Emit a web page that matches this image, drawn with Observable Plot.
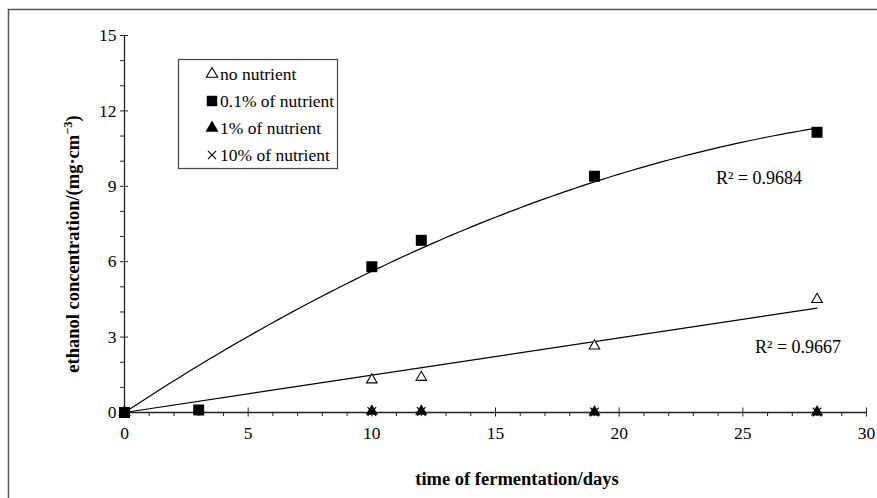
<!DOCTYPE html>
<html>
<head>
<meta charset="utf-8">
<script src="https://cdn.jsdelivr.net/npm/d3@7"></script>
<script src="https://cdn.jsdelivr.net/npm/@observablehq/plot@0.6"></script>
<style>
  html, body { margin: 0; padding: 0; background: white; overflow: hidden; }
  #chart { position: relative; width: 877px; height: 498px; overflow: hidden; }
</style>
</head>
<body>
<div id="chart"></div>
<script>
// ---- data ----
const daysNoNutrient = [0, 10, 12, 19, 28];
const valuesNoNutrient = [0, 1.3, 1.4, 2.65, 4.5];

const days01 = [0, 3, 10, 12, 19, 28];
const values01 = [0, 0.1, 5.8, 6.85, 9.4, 11.15];

const days1 = [0, 10, 12, 19, 28];
const values1 = [0, 0.05, 0.05, 0.02, 0.02];

const days10 = [0, 10, 12, 19, 28];
const values10 = [0, 0.04, 0.04, 0.02, 0.02];

const seriesNames = ["no nutrient", "0.1% of nutrient", "1% of nutrient", "10% of nutrient"];
const r2Labels = ["R\u00B2 = 0.9684", "R\u00B2 = 0.9667"];

const xMajor = [0, 5, 10, 15, 20, 25, 30];
const xMinor = d3.range(0, 31).filter(d => d % 5 !== 0);
const yMajor = [0, 3, 6, 9, 12, 15];
const yMinor = d3.range(0, 16).filter(d => d % 3 !== 0);

const xTitle = "time of fermentation/days";

// ---- build tables ----
const toRows = (xs, ys) => xs.map((x, i) => ({x, y: ys[i]}));
const rowsNo = toRows(daysNoNutrient, valuesNoNutrient);
const rows01 = toRows(days01, values01);
const rows1 = toRows(days1, values1);
const rows10 = toRows(days10, values10);

// Trendlines (least squares, intercept fixed at 0)
const aLin = d3.sum(rowsNo, d => d.x * d.y) / d3.sum(rowsNo, d => d.x * d.x);
const s2 = d3.sum(rows01, d => d.x ** 2), s3 = d3.sum(rows01, d => d.x ** 3), s4 = d3.sum(rows01, d => d.x ** 4);
const sxy = d3.sum(rows01, d => d.x * d.y), sx2y = d3.sum(rows01, d => d.x * d.x * d.y);
const det = s2 * s4 - s3 * s3;
const aQ = (sxy * s4 - s3 * sx2y) / det;
const bQ = (s2 * sx2y - s3 * sxy) / det;
const xMax = d3.max(days01);
const samples = d3.range(0, xMax + 0.001, 0.25);
const fitQuad = samples.map(x => ({x, y: aQ * x + bQ * x * x}));
const fitLin = [0, xMax].map(x => ({x, y: aLin * x}));

const font = "'Liberation Serif', 'Times New Roman', Times, serif";
const ink = "#000";

const chart = Plot.plot({
  width: 877,
  height: 498,
  marginLeft: 124,
  marginRight: 11,
  marginTop: 35,
  marginBottom: 86,
  x: {domain: [0, 30]},
  y: {domain: [0, 15]},
  style: {fontFamily: font, fontSize: "17px", background: "white", color: ink},
  marks: [
    // axes
    Plot.axisX(xMinor, {tickSize: 4, tickFormat: () => "", label: null, stroke: "#222"}),
    Plot.axisX(xMajor, {tickSize: 9, dy: -4.5, tickFormat: () => "", label: null, stroke: "#222"}),
    Plot.axisX(xMajor, {tickSize: 0, tickPadding: 14, label: null, fontSize: 17.5}),
    Plot.axisY(yMinor, {tickSize: 4, tickFormat: () => "", label: null, stroke: "#222"}),
    Plot.axisY(yMajor, {tickSize: 8, dx: 4, tickFormat: () => "", label: null, stroke: "#222"}),
    Plot.axisY(yMajor, {tickSize: 0, tickPadding: 8, label: null, fontSize: 17.5}),
    Plot.ruleY([0], {stroke: "#222", strokeWidth: 1.3}),
    Plot.ruleX([0], {stroke: "#222", strokeWidth: 1.3}),
    // trendlines
    Plot.line(fitQuad, {x: "x", y: "y", stroke: ink, strokeWidth: 1.2}),
    Plot.line(fitLin, {x: "x", y: "y", stroke: ink, strokeWidth: 1.2}),
    // points
    Plot.dot(rows10, {x: "x", y: "y", symbol: "times", r: 4, stroke: ink, strokeWidth: 1.2}),
    Plot.dot(rows1, {x: "x", y: "y", symbol: "triangle", r: 4.2, fill: ink, stroke: ink, strokeWidth: 0.5}),
    Plot.dot(rowsNo, {x: "x", y: "y", symbol: "triangle", r: 3.9, fill: "white", stroke: ink, strokeWidth: 1.1}),
    Plot.dot(rows01, {x: "x", y: "y", symbol: "square", r: 6.2, fill: ink, stroke: "none"}),
    // R² annotations
    Plot.text([r2Labels[0]], {x: xMax, y: aQ * xMax + bQ * xMax * xMax, dx: -58, dy: 50, fontSize: 18, fill: ink}),
    Plot.text([r2Labels[1]], {x: xMax, y: aLin * xMax, dx: -19, dy: 39, fontSize: 18, fill: ink})
  ]
});

document.getElementById("chart").appendChild(chart);

const svg = d3.select(chart);

// outer frame (left and top edges visible)
svg.append("rect")
  .attr("x", 8.5).attr("y", 9.5).attr("width", 890).attr("height", 510)
  .attr("fill", "none").attr("stroke", "#555").attr("stroke-width", 1.5);

// axis titles
svg.append("text")
  .attr("x", 517).attr("y", 485)
  .style("text-anchor", "middle")
  .style("font-family", font).style("font-size", "18.5px").style("font-weight", "bold")
  .attr("fill", ink)
  .text(xTitle);

const yt = svg.append("text")
  .attr("transform", "translate(79,244) rotate(-90)")
  .style("text-anchor", "middle")
  .style("font-family", font).style("font-size", "18.5px").style("font-weight", "bold")
  .attr("fill", ink);
yt.append("tspan").text("ethanol concentration/(mg\u00B7cm");
yt.append("tspan").attr("dy", -7).style("font-size", "12.5px").text("\u22123");
yt.append("tspan").attr("dy", 7).text(")");

// legend
const lg = svg.append("g");
lg.append("rect")
  .attr("x", 178.5).attr("y", 59.5).attr("width", 159).attr("height", 109)
  .attr("fill", "white").attr("stroke", "#444").attr("stroke-width", 1.2);
const rowY = [74, 101, 128, 155];
const legendSyms = [
  {type: d3.symbolTriangle, size: 55, fill: "white", stroke: ink, sw: 1.1},
  {type: d3.symbolSquare, size: 110, fill: ink, stroke: "none", sw: 0},
  {type: d3.symbolTriangle, size: 65, fill: ink, stroke: ink, sw: 0.5},
  {type: d3.symbolTimes, size: 45, fill: "none", stroke: ink, sw: 1.1}
];
seriesNames.forEach((name, i) => {
  const s = legendSyms[i];
  lg.append("path")
    .attr("transform", `translate(212,${rowY[i]})`)
    .attr("d", d3.symbol(s.type, s.size)())
    .attr("fill", s.fill).attr("stroke", s.stroke).attr("stroke-width", s.sw);
  lg.append("text")
    .attr("x", 220).attr("y", rowY[i] + 6)
    .style("text-anchor", "start")
    .style("font-family", font).style("font-size", "17.5px")
    .attr("fill", ink)
    .text(name);
});
</script>
</body>
</html>
